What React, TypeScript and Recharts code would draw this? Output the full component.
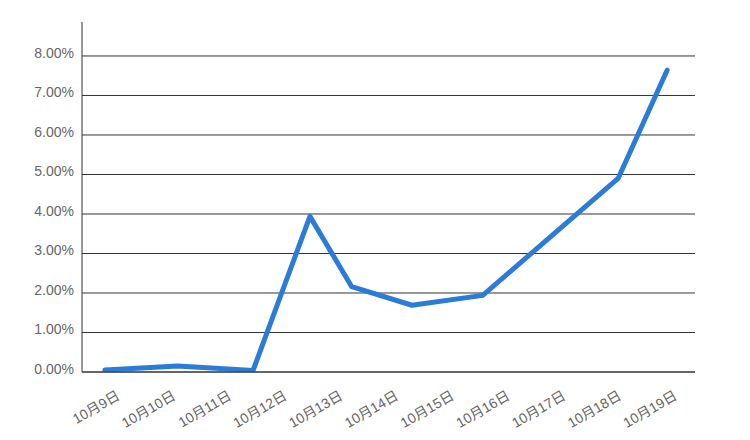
import { LineChart, Line, XAxis, YAxis, CartesianGrid } from 'recharts';

// category labels along the x axis
const days = ['10月9日', '10月10日', '10月11日', '10月12日', '10月13日', '10月14日', '10月15日', '10月16日', '10月17日', '10月18日', '10月19日'];
// where each point of the line sits, in category units (0 = 10月9日)
const positions = [-0.09, 1.22, 2.57, 3.59, 4.34, 5.42, 6.69, 9.12, 10.0];
// rate values in percent
const rates = [0.05, 0.15, 0.04, 3.94, 2.16, 1.69, 1.94, 4.9, 7.64];
const yTicks = [0, 1, 2, 3, 4, 5, 6, 7, 8];

const data = positions.map((p, i) => ({ x: p, rate: rates[i] }));
const xTicks = days.map((_, i) => i);

const font = '"Liberation Sans", Arial, "Noto Sans CJK SC", sans-serif';

export default function App() {
    return (
        <div style={{ position: 'absolute', left: 0, top: 0, background: '#fff' }}>
            <LineChart width={750} height={440} data={data} margin={{ top: 22, right: 55, bottom: 0, left: 0 }}>
                <CartesianGrid vertical={false} stroke="#333" strokeWidth={1} horizontalValues={yTicks} />
                <XAxis
                    dataKey="x"
                    type="number"
                    domain={[-0.5, 10.5]}
                    ticks={xTicks}
                    interval={0}
                    tickFormatter={(v: number) => days[v] ?? ''}
                    axisLine={{ stroke: '#333' }}
                    tickLine={false}
                    tickMargin={12}
                    height={68}
                    angle={-30}
                    textAnchor="end"
                    tick={{ fill: '#666', fontSize: 14, fontFamily: font, dx: 6 }}
                />
                <YAxis
                    type="number"
                    domain={[0, 8.86]}
                    ticks={yTicks}
                    allowDataOverflow
                    width={82}
                    axisLine={{ stroke: '#333' }}
                    tickLine={false}
                    tickFormatter={(v: number) => v.toFixed(2) + '%'}
                    tick={{ fill: '#666', fontSize: 14, fontFamily: font, dy: -3 }}
                />
                <Line
                    type="linear"
                    dataKey="rate"
                    stroke="#2B7BD9"
                    strokeWidth={5}
                    strokeLinejoin="round"
                    strokeLinecap="round"
                    dot={false}
                    activeDot={false}
                    isAnimationActive={false}
                />
            </LineChart>
        </div>
    );
}
